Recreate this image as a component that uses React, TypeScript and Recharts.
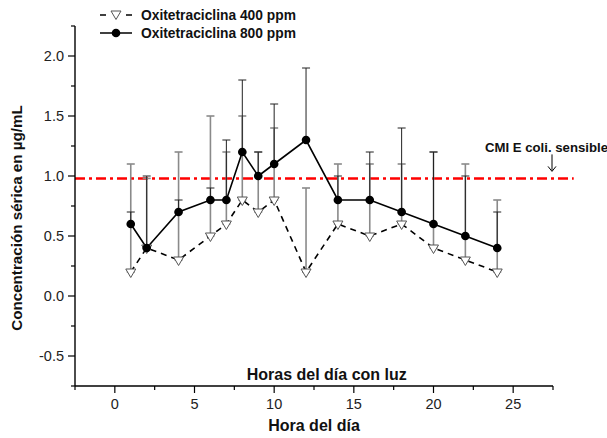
import React from 'react';
import { LineChart, Line, XAxis, YAxis, ErrorBar, ReferenceLine, ReferenceDot } from 'recharts';

const hours = [1, 2, 4, 6, 7, 8, 9, 10, 12, 14, 16, 18, 20, 22, 24];
const oxi400 = [0.2, 0.4, 0.3, 0.5, 0.6, 0.8, 0.7, 0.8, 0.2, 0.6, 0.5, 0.6, 0.4, 0.3, 0.2];
const oxi800 = [0.6, 0.4, 0.7, 0.8, 0.8, 1.2, 1.0, 1.1, 1.3, 0.8, 0.8, 0.7, 0.6, 0.5, 0.4];
// upper error only (bars drawn upward from each point)
const err400 = [0.9, 0.58, 0.9, 1.0, 0.6, 0.7, 0.5, 0.6, 0.7, 0.5, 0.6, 0.5, 0.8, 0.8, 0.6];
const err800 = [0.1, 0.6, 0.1, 0.1, 0.5, 0.6, 0.2, 0.5, 0.6, 0.2, 0.4, 0.7, 0.6, 0.5, 0.3];

const xTicks = [-2.5, 0, 2.5, 5, 7.5, 10, 12.5, 15, 17.5, 20, 22.5, 25, 27.5];
const yTicks = [-0.75, -0.5, -0.25, 0, 0.25, 0.5, 0.75, 1, 1.25, 1.5, 1.75, 2, 2.25];
const cmi = 0.98;

const FONT = '"Liberation Sans", Arial, sans-serif';

const data = hours.map((h, i) => ({
  hora: h,
  oxi400: oxi400[i],
  oxi800: oxi800[i],
  e400: [0, err400[i]],
  e800: [0, err800[i]],
}));

const YTick = (props: any) => {
  const { x, y, payload } = props;
  const v = payload.value;
  const major = Number.isInteger(v * 2) && v >= -0.5 && v <= 2;
  return (
    <g>
      <line x1={x - (major ? 7 : 4)} x2={x} y1={y} y2={y} stroke="#000" strokeWidth={1.2} />
      {major && (
        <text x={x - 11} y={y} dy="0.35em" textAnchor="end" fontSize={14.5} fill="#222" fontFamily={FONT}>
          {v.toFixed(1)}
        </text>
      )}
    </g>
  );
};

const XTick = (props: any) => {
  const { x, y, payload } = props;
  const v = payload.value;
  const major = Number.isInteger(v / 5) && v >= 0 && v <= 25;
  return (
    <g>
      <line x1={x} x2={x} y1={y} y2={y + (major ? 7 : 4)} stroke="#000" strokeWidth={1.2} />
      {major && (
        <text x={x} y={y + 23} textAnchor="middle" fontSize={14.5} fill="#222" fontFamily={FONT}>
          {v}
        </text>
      )}
    </g>
  );
};

const Triangle = (props: any) => {
  const { cx, cy } = props;
  if (cx == null || cy == null) return null;
  return (
    <path
      d={`M${cx - 5},${cy - 3} L${cx + 5},${cy - 3} L${cx},${cy + 5.5} Z`}
      fill="#fff"
      stroke="#555"
      strokeWidth={1}
    />
  );
};

const Dot = (props: any) => {
  const { cx, cy } = props;
  if (cx == null || cy == null) return null;
  return <circle cx={cx} cy={cy} r={4.3} fill="#000" />;
};

const Legend = () => (
  <div style={{ position: 'absolute', left: 98, top: 6, fontFamily: FONT, fontWeight: 'bold', fontSize: 13.8, color: '#111' }}>
    <div style={{ display: 'flex', alignItems: 'center', height: 18 }}>
      <svg width={40} height={14}>
        <line x1={2} x2={8} y1={7} y2={7} stroke="#000" strokeWidth={1.5} />
        <path d="M13,3 L23,3 L18,11.5 Z" fill="#fff" stroke="#555" strokeWidth={1} />
        <line x1={28} x2={34} y1={7} y2={7} stroke="#000" strokeWidth={1.5} />
      </svg>
      <span style={{ marginLeft: 3 }}>Oxitetraciclina 400 ppm</span>
    </div>
    <div style={{ display: 'flex', alignItems: 'center', height: 18 }}>
      <svg width={40} height={14}>
        <line x1={2} x2={34} y1={7} y2={7} stroke="#000" strokeWidth={1.5} />
        <circle cx={18} cy={7} r={4.3} fill="#000" />
      </svg>
      <span style={{ marginLeft: 3 }}>Oxitetraciclina 800 ppm</span>
    </div>
  </div>
);

export default function App() {
  return (
    <div style={{ position: 'absolute', left: 0, top: 0, width: 607, height: 438, background: '#fff' }}>
      <LineChart width={607} height={438} data={data} margin={{ top: 26, right: 54, bottom: 0, left: 0 }}>
        <XAxis
          dataKey="hora"
          type="number"
          domain={[-2.5, 27.5]}
          ticks={xTicks}
          interval={0}
          height={52}
          tickSize={0}
          tickMargin={0}
          tickLine={false}
          tick={<XTick />}
          axisLine={{ stroke: '#000', strokeWidth: 1.4 }}
          label={{
            content: ({ viewBox }: any) => (
              <text
                x={viewBox.x + viewBox.width / 2}
                y={viewBox.y + 45}
                textAnchor="middle"
                fontSize={16}
                fontWeight="bold"
                fill="#111"
                fontFamily={FONT}
              >
                Hora del día
              </text>
            ),
          }}
        />
        <YAxis
          type="number"
          domain={[-0.75, 2.25]}
          ticks={yTicks}
          interval={0}
          width={75}
          tickSize={0}
          tickMargin={0}
          tickLine={false}
          tick={<YTick />}
          axisLine={{ stroke: '#000', strokeWidth: 1.4 }}
          label={{
            content: ({ viewBox }: any) => {
              const cx = viewBox.x + 17;
              const cy = viewBox.y + viewBox.height / 2 + 12;
              return (
                <text
                  transform={`translate(${cx},${cy}) rotate(-90)`}
                  textAnchor="middle"
                  dy="0.35em"
                  fontSize={15.2}
                  fontWeight="bold"
                  fill="#111"
                  fontFamily={FONT}
                >
                  Concentración sérica en µg/mL
                </text>
              );
            },
          }}
        />
        <ReferenceLine
          segment={[{ x: -2.5, y: cmi }, { x: 28.8, y: cmi }]}
          ifOverflow="visible"
          stroke="#ff0000"
          strokeWidth={2.5}
          strokeDasharray="10 4 3 4"
        />
        <ReferenceDot
          x={27.5}
          y={cmi}
          ifOverflow="visible"
          shape={(p: any) => (
            <g>
              <text x={p.cx + 55} y={p.cy - 26} textAnchor="end" fontSize={13.2} fontWeight="bold" fill="#111" fontFamily={FONT}>
                CMI E coli. sensible
              </text>
              <line x1={p.cx - 1} x2={p.cx - 1} y1={p.cy - 24} y2={p.cy - 8} stroke="#000" strokeWidth={1} />
              <path d={`M${p.cx - 5},${p.cy - 12} L${p.cx - 1},${p.cy - 7} L${p.cx + 3},${p.cy - 12}`} fill="none" stroke="#000" strokeWidth={1} />
            </g>
          )}
        />
        <ReferenceDot
          x={13.3}
          y={-0.65}
          ifOverflow="visible"
          shape={(p: any) => (
            <text x={p.cx} y={p.cy} dy="0.35em" textAnchor="middle" fontSize={16} fontWeight="bold" fill="#111" fontFamily={FONT}>
              Horas del día con luz
            </text>
          )}
        />
        <Line
          dataKey="oxi400"
          stroke="#000"
          strokeWidth={1.6}
          strokeDasharray="6 5"
          dot={<Triangle />}
          activeDot={false}
          isAnimationActive={false}
        >
          <ErrorBar dataKey="e400" direction="y" width={4} stroke="#8a8a8a" strokeWidth={1.6} />
        </Line>
        <Line
          dataKey="oxi800"
          stroke="#000"
          strokeWidth={1.6}
          dot={<Dot />}
          activeDot={false}
          isAnimationActive={false}
        >
          <ErrorBar dataKey="e800" direction="y" width={4} stroke="#222" strokeWidth={1} />
        </Line>
      </LineChart>
      <Legend />
    </div>
  );
}
